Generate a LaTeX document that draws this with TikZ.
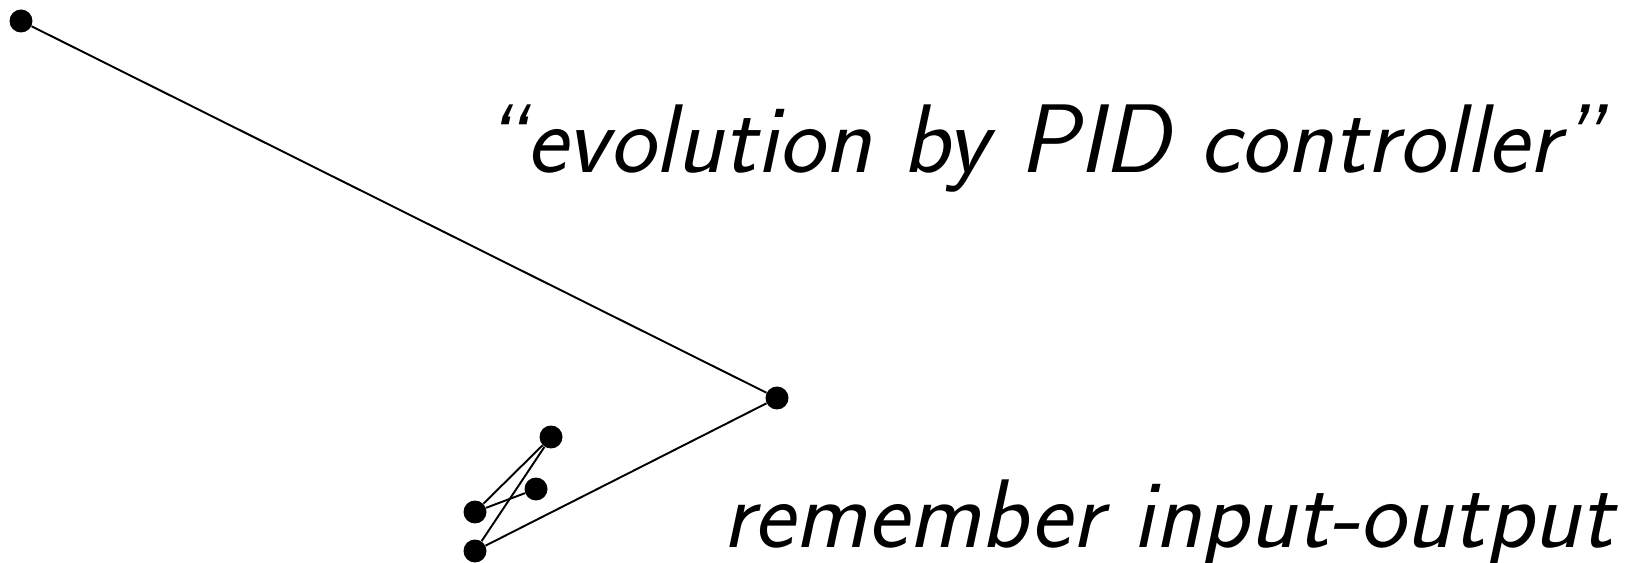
\documentclass[tikz,border=0pt]{standalone}
\usepackage{tikz}
\usetikzlibrary{positioning}

\begin{document}
\begin{tikzpicture}[
  x=0.02cm, y=-0.02cm,
  dot/.style={circle, fill=black, inner sep=0pt, minimum size=0.46cm},
  link/.style={line width=1.1pt},
  lbl/.style={font=\fontsize{55.5}{60}\selectfont\sffamily\slshape, inner sep=0pt}
]
\useasboundingbox (0,0) rectangle (1643,563);

\node[dot] (start) at (21,21) {};
\node[dot] (pid) at (777,398) {};
\node[dot] (m1) at (475,551) {};
\node[dot] (m2) at (551,437) {};
\node[dot] (m3) at (475,512) {};
\node[dot] (m4) at (536,489) {};

\draw[link] (start) -- (pid);
\draw[link] (pid) -- (m1);
\draw[link] (m1) -- (m2);
\draw[link] (m2) -- (m3);
\draw[link] (m3) -- (m4);

\node[lbl, anchor=base east] (evo) at (1603,173) {``evolution by PID controller''};
\node[lbl, anchor=base east] (mem) at (1614,548) {remember input-output};

\end{tikzpicture}
\end{document}
